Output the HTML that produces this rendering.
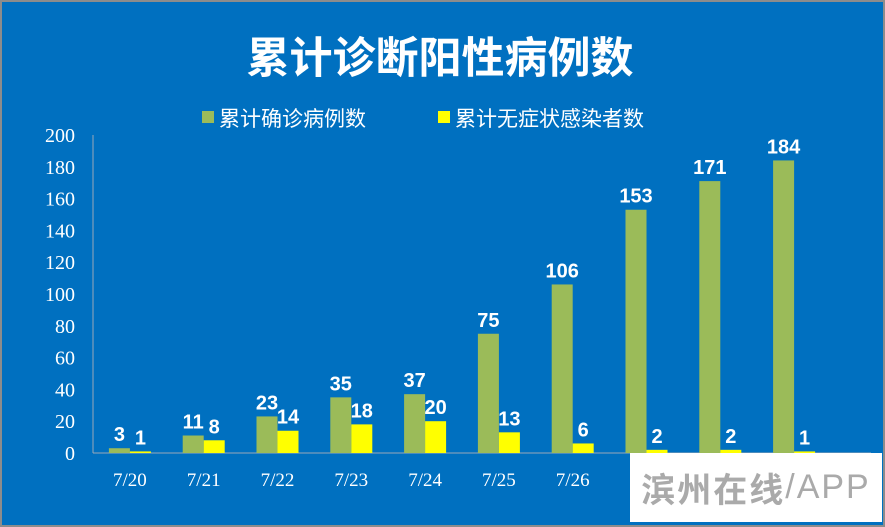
<!DOCTYPE html>
<html><head><meta charset="utf-8"><style>
body{margin:0;background:#fff}
#c{position:relative;width:885px;height:527px;background:#0070C0;box-sizing:border-box;border:2px solid #8c8c8c;overflow:hidden;font-family:"Liberation Sans","Noto Sans CJK SC",sans-serif}
</style></head><body>
<div id="c">
<svg id="s" width="885" height="527" style="position:absolute;left:-2px;top:-2px">
<text x="440" y="73" text-anchor="middle" fill="#fff" font-size="43" font-weight="bold" font-family="Noto Sans CJK SC,sans-serif">累计诊断阳性病例数</text>
<g>
<rect x="202" y="111" width="12" height="12" fill="#9BBB59"/>
<text x="219" y="126" fill="#fff" font-size="21" font-family="Noto Sans CJK SC,sans-serif">累计确诊病例数</text>
<rect x="438" y="111" width="12" height="12" fill="#FFFF00"/>
<text x="455" y="126" fill="#fff" font-size="21" font-family="Noto Sans CJK SC,sans-serif">累计无症状感染者数</text>
</g>
<g id="ax"></g><g id="bars"></g>
</svg>
<div style="position:absolute;left:628px;top:451px;width:252px;height:69px;background:#fff;display:flex;align-items:center;justify-content:center;font-size:34px;font-weight:bold;color:#aaa;font-family:'Noto Sans CJK SC',sans-serif;letter-spacing:2px">滨州在线<span style="font-weight:normal;font-family:'Liberation Sans',sans-serif">/APP</span></div>
</div>
<script>
const categories=["7/20","7/21","7/22","7/23","7/24","7/25","7/26","7/27","7/28","7/29"];
const confirmed=[3,11,23,35,37,75,106,153,171,184];
const asymptomatic=[1,8,14,18,20,13,6,2,2,1];
const ticks=[0,20,40,60,80,100,120,140,160,180,200];
const NS="http://www.w3.org/2000/svg";
const x0=93,x1=831,y0=453,y1=135,bw=21;
const step=(x1-x0)/categories.length;
const y=v=>y0-(v/200)*(y0-y1);
const cx=i=>x0+step*(i+0.5);
function mk(t,a,p){const e=document.createElementNS(NS,t);for(const k in a)e.setAttribute(k,a[k]);p.appendChild(e);return e;}
const ax=document.getElementById('ax'),bars=document.getElementById('bars');
let l=mk('line',{x1:x0,y1:y1,x2:x0,y2:y0,stroke:'#9aa9b8'},ax);


l=mk('line',{x1:x0,y1:y0,x2:x1+40,y2:y0,stroke:'#9aa9b8'},ax);


ticks.forEach(t=>{const e=mk('text',{x:75,y:y(t)+7,'text-anchor':'end',fill:'#fff','font-size':20,'font-family':'Liberation Serif,serif'},ax);e.textContent=t;

});
categories.forEach((c,i)=>{
const e=mk('text',{x:cx(i),y:486,'text-anchor':'middle',fill:'#fff','font-size':19,'font-family':'Liberation Serif,serif'},ax);e.textContent=c;


const g=mk('rect',{x:cx(i)-bw,y:y(confirmed[i]),width:bw,height:y0-y(confirmed[i]),fill:'#9BBB59'},bars);


const yb=mk('rect',{x:cx(i),y:y(asymptomatic[i]),width:bw,height:y0-y(asymptomatic[i]),fill:'#FFFF00'},bars);


const t1=mk('text',{x:cx(i)-bw/2,y:y(confirmed[i])-7,'text-anchor':'middle',fill:'#fff','font-size':20,'font-weight':'bold','font-family':'Liberation Sans Narrow,Liberation Sans,sans-serif'},bars);t1.textContent=confirmed[i];


const t2=mk('text',{x:cx(i)+bw/2,y:y(asymptomatic[i])-7,'text-anchor':'middle',fill:'#fff','font-size':20,'font-weight':'bold','font-family':'Liberation Sans Narrow,Liberation Sans,sans-serif'},bars);t2.textContent=asymptomatic[i];


});
</script>
</body></html>
